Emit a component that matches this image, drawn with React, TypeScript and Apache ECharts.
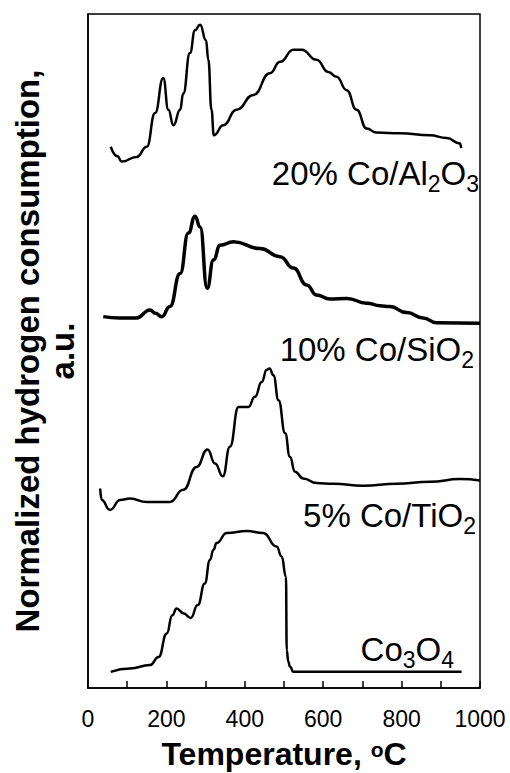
import React, { useEffect, useRef } from "react";
import * as echarts from "echarts";

// H2-TPR profiles, temperature in °C, normalized signal (stacked with offsets)
const al2o3T = [58, 75, 86, 124, 150, 171, 192, 205, 218, 235, 243, 260, 273, 286, 301, 307, 315, 321, 345, 379, 422, 464, 490, 524, 545, 583, 613, 634, 660, 685, 711, 736, 796, 872, 915, 949, 952];
const al2o3V = [80.3, 78.9, 78.1, 78.8, 80.3, 85.3, 90.5, 85.8, 83.5, 85.8, 88.2, 94.2, 97.6, 98.4, 96.1, 93.2, 85.8, 82.0, 83.5, 85.8, 88.0, 91.2, 92.9, 94.7, 94.7, 93.2, 91.4, 90.7, 88.7, 85.8, 83.0, 82.4, 82.3, 82.0, 81.6, 80.8, 80.1];

const sio2T = [39, 80, 124, 158, 172, 188, 209, 235, 256, 273, 286, 304, 320, 337, 371, 439, 490, 524, 558, 583, 617, 660, 711, 745, 770, 813, 855, 889, 1000];
const sio2V = [55.1, 54.9, 54.9, 56.1, 55.6, 55.1, 56.6, 61.5, 67.5, 70.0, 68.4, 59.3, 63.5, 65.7, 66.2, 65.2, 64.0, 62.3, 59.8, 58.3, 57.7, 57.8, 57.1, 56.7, 56.6, 55.7, 54.9, 54.2, 54.1];

const tio2T = [31, 35, 56, 82, 107, 150, 209, 243, 277, 305, 324, 344, 362, 384, 409, 426, 443, 456, 463, 473, 486, 503, 515, 528, 549, 583, 626, 702, 787, 872, 949, 1000];
const tio2V = [29.6, 27.9, 26.4, 27.9, 28.1, 27.6, 27.6, 29.4, 32.8, 35.4, 33.3, 31.4, 35.8, 41.7, 41.7, 43.2, 45.4, 47.2, 47.4, 46.4, 42.7, 37.8, 34.3, 32.1, 31.1, 30.4, 30.3, 30.0, 30.3, 30.6, 31.0, 30.8];

const co3o4T = [58, 107, 158, 180, 201, 215, 226, 243, 262, 280, 298, 311, 320, 328, 354, 405, 447, 481, 494, 505, 507, 511, 515, 524, 575, 745, 953];
const co3o4V = [2.4, 2.9, 3.4, 4.6, 8.1, 10.8, 11.8, 11.1, 10.4, 12.3, 15.5, 19.0, 20.5, 21.5, 23.0, 23.3, 23.0, 21.0, 19.5, 16.5, 5.6, 3.9, 3.2, 2.4, 2.4, 2.4, 2.4];

const xTickLabels = ["0", "200", "400", "600", "800", "1000"];

const FONT = "'Liberation Sans', Arial, sans-serif";

const pairs = (t: number[], v: number[]) => t.map((x, i) => [x, v[i]]);

const lineSeries = (name: string, t: number[], v: number[], width: number) => ({
  name,
  type: "line",
  data: pairs(t, v),
  showSymbol: false,
  smooth: 0.5,
  smoothMonotone: "x",
  lineStyle: { color: "#000", width },
  emphasis: { disabled: true },
});

const subLabel = (parts: [string, boolean][], right: number, cy: number) => ({
  type: "text",
  x: right,
  y: cy,
  style: {
    text: parts.map(([s, sub]) => `{${sub ? "s" : "m"}|${s}}`).join(""),
    align: "right",
    verticalAlign: "middle",
    fill: "#000",
    font: `33px ${FONT}`,
    rich: {
      m: { fontSize: 33, fontFamily: FONT, lineHeight: 44, verticalAlign: "middle", fill: "#000" },
      s: { fontSize: 23, fontFamily: FONT, lineHeight: 24, verticalAlign: "bottom", fill: "#000" },
    },
  },
});

export default function App() {
  const ref = useRef<HTMLDivElement>(null);

  useEffect(() => {
    if (!ref.current) return;
    const chart = echarts.init(ref.current, null, { renderer: "svg" });
    chart.setOption({
      animation: false,
      backgroundColor: "#fff",
      grid: {
        left: 88,
        right: 30,
        top: 14,
        bottom: 85,
        outerBoundsMode: "none",
        containLabel: false,
        show: true,
        borderColor: "#000",
        borderWidth: 1.5,
      },
      xAxis: {
        type: "value",
        min: 0,
        max: 1000,
        interval: 100,
        axisLine: { lineStyle: { color: "#000", width: 1.5 } },
        axisTick: { inside: true, length: 7, lineStyle: { color: "#000", width: 1.5 } },
        splitLine: { show: false },
        axisLabel: {
          color: "#000",
          fontSize: 23,
          fontFamily: FONT,
          margin: 19,
          formatter: (v: number) => (xTickLabels.includes(String(v)) ? String(v) : ""),
        },
        name: "{b|Temperature, }{sup|o}{b|C}",
        nameLocation: "middle",
        nameGap: 51,
        nameTextStyle: {
          rich: {
            b: { fontSize: 32, fontWeight: "bold", fontFamily: FONT, color: "#000", lineHeight: 30 },
            sup: { fontSize: 21, fontWeight: "bold", fontFamily: FONT, color: "#000", lineHeight: 14, verticalAlign: "top" },
          },
        },
      },
      yAxis: {
        type: "value",
        min: 0,
        max: 100,
        axisLine: { show: true, lineStyle: { color: "#000", width: 1.5 } },
        axisTick: { show: false },
        axisLabel: { show: false },
        splitLine: { show: false },
        name: "Normalized hydrogen consumption,\na.u.",
        nameLocation: "middle",
        nameGap: 8,
        nameTextStyle: {
          fontSize: 33,
          fontWeight: "bold",
          fontFamily: FONT,
          color: "#000",
          lineHeight: 35,
          align: "center",
        },
      },
      series: [
        lineSeries("20% Co/Al2O3", al2o3T, al2o3V, 2.5),
        lineSeries("10% Co/SiO2", sio2T, sio2V, 3.5),
        lineSeries("5% Co/TiO2", tio2T, tio2V, 2.5),
        lineSeries("Co3O4", co3o4T, co3o4V, 2.5),
      ],
      graphic: [
        subLabel([["20% Co/Al", false], ["2", true], ["O", false], ["3", true]], 479, 173),
        subLabel([["10% Co/SiO", false], ["2", true]], 474, 349),
        subLabel([["5% Co/TiO", false], ["2", true]], 476, 515),
        subLabel([["Co", false], ["3", true], ["O", false], ["4", true]], 454, 649),
      ],
    });
    return () => chart.dispose();
  }, []);

  return (
    <div
      ref={ref}
      style={{ position: "absolute", left: 0, top: 0, width: 510, height: 773 }}
    />
  );
}
